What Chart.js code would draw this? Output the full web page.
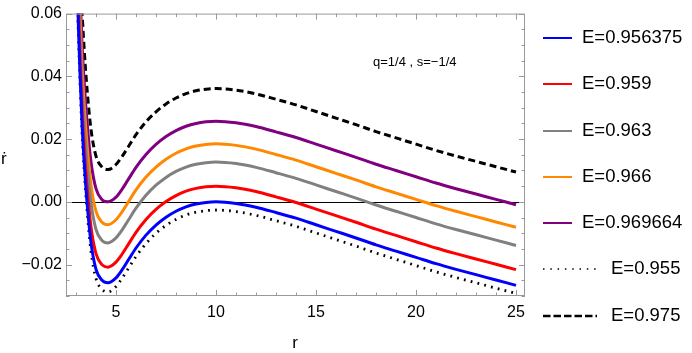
<!DOCTYPE html>
<html>
<head>
<meta charset="utf-8">
<script src="https://cdn.jsdelivr.net/npm/chart.js@4.4.0/dist/chart.umd.min.js"></script>
<style>
  html, body { margin: 0; padding: 0; background: #fff; }
  #wrap { width: 692px; height: 353px; }
</style>
</head>
<body>
<div id="wrap"><canvas id="chart" width="692" height="353"></canvas></div>
<script>
const rVals = [3.0, 3.1, 3.2, 3.3, 3.4, 3.55, 3.75, 4.0, 4.3, 4.6,
               5.0, 5.3, 5.6, 6.0, 6.5, 7.0, 7.5, 8.0, 8.5, 9.0,
               9.5, 10, 11, 12, 13, 14, 15, 16, 17, 18,
               19, 20, 21, 22, 23, 24, 25];

const e956375 = [0.085, 0.060, 0.041, 0.025, 0.0135, 0.0, -0.013, -0.0215, -0.025, -0.0258,
                 -0.0242, -0.0217, -0.0187, -0.0147, -0.0106, -0.0074, -0.0049, -0.0030, -0.0016, -0.0007,
                 -0.0002, 0.0, -0.0005, -0.0017, -0.0034, -0.0052, -0.0073, -0.0094, -0.0115, -0.0137,
                 -0.0157, -0.0177, -0.0197, -0.0215, -0.0232, -0.0249, -0.0266];
const e959 = [0.090, 0.065, 0.046, 0.030, 0.0185, 0.0050, -0.0080, -0.0165, -0.0200, -0.0208,
              -0.0192, -0.0167, -0.0137, -0.0097, -0.0056, -0.0024, 0.0001, 0.0020, 0.0034, 0.0043,
              0.0048, 0.0050, 0.0045, 0.0033, 0.0016, -0.0002, -0.0023, -0.0044, -0.0065, -0.0087,
              -0.0107, -0.0127, -0.0147, -0.0165, -0.0182, -0.0199, -0.0216];
const e963 = [0.0977, 0.0727, 0.0537, 0.0377, 0.0262, 0.0127, -0.0003, -0.0088, -0.0123, -0.0131,
              -0.0115, -0.0090, -0.0060, -0.0020, 0.0021, 0.0053, 0.0078, 0.0097, 0.0111, 0.0120,
              0.0125, 0.0127, 0.0122, 0.0110, 0.0093, 0.0075, 0.0054, 0.0033, 0.0012, -0.0010,
              -0.0030, -0.0050, -0.0070, -0.0088, -0.0105, -0.0122, -0.0139];
const e966 = [0.1035, 0.0785, 0.0595, 0.0435, 0.0320, 0.0185, 0.0055, -0.0030, -0.0065, -0.0073,
              -0.0057, -0.0032, -0.0002, 0.0038, 0.0079, 0.0111, 0.0136, 0.0155, 0.0169, 0.0178,
              0.0183, 0.0185, 0.0180, 0.0168, 0.0151, 0.0133, 0.0112, 0.0091, 0.0070, 0.0048,
              0.0028, 0.0008, -0.0012, -0.0030, -0.0047, -0.0064, -0.0081];
const e969664 = [0.1107, 0.0857, 0.0667, 0.0507, 0.0392, 0.0257, 0.0127, 0.0042, 0.0007, 0.0,
                 0.0015, 0.0040, 0.0070, 0.0110, 0.0151, 0.0183, 0.0208, 0.0227, 0.0241, 0.0250,
                 0.0255, 0.0257, 0.0252, 0.0240, 0.0223, 0.0205, 0.0184, 0.0163, 0.0142, 0.0120,
                 0.0100, 0.0080, 0.0060, 0.0042, 0.0025, 0.0008, -0.0009];
const e955 = [0.0824, 0.0574, 0.0384, 0.0224, 0.0109, -0.0026, -0.0158, -0.0244, -0.0279, -0.0287,
              -0.0270, -0.0244, -0.0214, -0.0174, -0.0133, -0.0100, -0.0075, -0.0056, -0.0042, -0.0033,
              -0.0028, -0.0026, -0.0031, -0.0043, -0.0060, -0.0078, -0.0099, -0.0120, -0.0141, -0.0163,
              -0.0183, -0.0203, -0.0223, -0.0241, -0.0258, -0.0275, -0.0292];
const e975 = [0.1211, 0.0961, 0.0771, 0.0611, 0.0496, 0.0361, 0.0231, 0.0146, 0.0111, 0.0103,
              0.0119, 0.0144, 0.0174, 0.0214, 0.0255, 0.0287, 0.0312, 0.0331, 0.0345, 0.0354,
              0.0359, 0.0361, 0.0356, 0.0344, 0.0327, 0.0309, 0.0288, 0.0267, 0.0246, 0.0224,
              0.0204, 0.0184, 0.0164, 0.0146, 0.0129, 0.0112, 0.0095];

const labels = ["E=0.956375", "E=0.959", "E=0.963", "E=0.966", "E=0.969664", "E=0.955", "E=0.975"];
const xTicks = [5, 10, 15, 20, 25];
const yTicks = [-0.02, 0, 0.02, 0.04, 0.06];

const FONT = "'Liberation Sans', Arial, sans-serif";

function series(vals) {
    return rVals.map((r, i) => ({ x: r, y: vals[i] }));
}

const styles = [
    { data: e956375, color: '#0000ff', width: 3, dash: [] },
    { data: e959, color: '#ff0000', width: 3, dash: [] },
    { data: e963, color: '#808080', width: 3, dash: [] },
    { data: e966, color: '#ff8800', width: 3, dash: [] },
    { data: e969664, color: '#800080', width: 3, dash: [] },
    { data: e955, color: '#000000', width: 2.8, dash: [1.8, 5.2] },
    { data: e975, color: '#000000', width: 3, dash: [7, 4] }
];

// frame, inside ticks, zero axis, texts and legend
const decor = {
    id: 'decor',
    beforeDatasetsDraw(chart) {
        const { ctx, chartArea: a, scales: { y } } = chart;
        const y0 = Math.round(y.getPixelForValue(0)) + 0.5;
        ctx.save();
        ctx.strokeStyle = '#000';
        ctx.lineWidth = 1;
        ctx.beginPath();
        ctx.moveTo(a.left, y0);
        ctx.lineTo(a.right, y0);
        ctx.stroke();
        ctx.restore();
    },
    afterDraw(chart) {
        const { ctx, chartArea: a, scales: { x, y } } = chart;
        ctx.save();
        ctx.strokeStyle = '#999';
        ctx.lineWidth = 1;
        ctx.strokeRect(a.left + 0.5, a.top + 0.5, a.right - a.left - 1, a.bottom - a.top - 1);

        ctx.beginPath();
        for (let v = 3; v <= 25; v++) {
            const px = Math.round(x.getPixelForValue(v)) + 0.5;
            const len = v % 5 === 0 ? 6 : 3.5;
            ctx.moveTo(px, a.bottom); ctx.lineTo(px, a.bottom - len);
            ctx.moveTo(px, a.top); ctx.lineTo(px, a.top + len);
        }
        for (let k = -6; k <= 12; k++) {
            const v = k * 0.005;
            const py = Math.round(y.getPixelForValue(v)) + 0.5;
            const len = k % 4 === 0 ? 6 : 3.5;
            ctx.moveTo(a.left, py); ctx.lineTo(a.left + len, py);
            ctx.moveTo(a.right, py); ctx.lineTo(a.right - len, py);
        }
        ctx.stroke();

        // texts
        ctx.fillStyle = '#000';
        ctx.font = '13px ' + FONT;
        ctx.textAlign = 'left';
        ctx.textBaseline = 'middle';
        ctx.fillText('q=1/4 , s=\u22121/4', 373, 62);

        ctx.font = '17px ' + FONT;
        ctx.textBaseline = 'alphabetic';
        ctx.fillText('\u1E59', 1, 164);
        ctx.textAlign = 'center';
        ctx.fillText('r', 295, 348);

        // legend
        const rowY = [38, 84, 131, 177, 223, 269, 316];
        ctx.font = '18.5px ' + FONT;
        ctx.textAlign = 'left';
        ctx.textBaseline = 'middle';
        styles.forEach((s, i) => {
            const dashed = s.dash.length > 0;
            const x1 = dashed ? 597 : 572;
            ctx.strokeStyle = s.color;
            ctx.lineWidth = dashed ? (i === 5 ? 1.5 : 2.5) : 2;
            ctx.setLineDash(i === 5 ? [1.5, 5.8] : (i === 6 ? [7.5, 3] : []));
            ctx.beginPath();
            ctx.moveTo(543, rowY[i]);
            ctx.lineTo(x1, rowY[i]);
            ctx.stroke();
            ctx.setLineDash([]);
            ctx.fillStyle = '#000';
            ctx.fillText(labels[i], dashed ? 611 : 582, rowY[i]);
        });
        ctx.restore();
    }
};

new Chart(document.getElementById('chart'), {
    type: 'line',
    data: {
        datasets: styles.map((s, i) => ({
            label: labels[i],
            data: series(s.data),
            borderColor: s.color,
            borderWidth: s.width,
            borderDash: s.dash,
            pointRadius: 0,
            fill: false,
            cubicInterpolationMode: 'monotone'
        }))
    },
    options: {
        responsive: false,
        animation: false,
        devicePixelRatio: 1,
        layout: { padding: { top: 13, right: 167, left: 0, bottom: 0 } },
        plugins: { legend: { display: false }, tooltip: { enabled: false } },
        scales: {
            x: {
                type: 'linear',
                min: 2.5,
                max: 25.45,
                grid: { display: false, drawTicks: false },
                border: { display: false },
                afterBuildTicks: s => { s.ticks = xTicks.map(v => ({ value: v })); },
                afterFit: s => { s.height = 57; },
                ticks: {
                    padding: 7,
                    color: '#000',
                    font: { family: FONT, size: 16 },
                    maxRotation: 0,
                    autoSkip: false,
                    callback: v => String(v)
                }
            },
            y: {
                min: -0.03,
                max: 0.06,
                grid: { display: false, drawTicks: false },
                border: { display: false },
                afterBuildTicks: s => { s.ticks = yTicks.map(v => ({ value: v })); },
                afterFit: s => { s.width = 66; },
                ticks: {
                    padding: 4,
                    color: '#000',
                    font: { family: FONT, size: 16 },
                    autoSkip: false,
                    callback: v => v === 0 ? '0.00' : (v < 0 ? '\u2212' : '') + Math.abs(v).toFixed(2)
                }
            }
        }
    },
    plugins: [decor]
});
</script>
</body>
</html>
